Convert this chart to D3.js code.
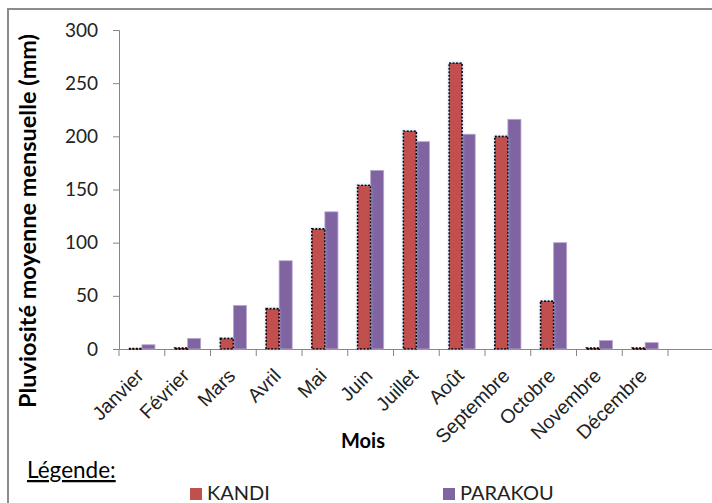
<!DOCTYPE html>
<html><head><meta charset="utf-8">
<script src="https://cdn.jsdelivr.net/npm/d3@7"></script>
<style>
html,body{margin:0;padding:0;background:#fff;}
svg{display:block;font-family:Lato,"Open Sans",sans-serif;}
</style></head>
<body><svg id="c" width="712" height="503"></svg>
<script>
const months = ["Janvier","Février","Mars","Avril","Mai","Juin","Juillet","Août","Septembre","Octobre","Novembre","Décembre",""];
const kandi   = [0.5, 1, 10, 38, 113, 154, 205, 269, 200, 45, 1, 1, null];
const parakou = [4, 10, 41, 83, 129, 168, 195, 202, 216, 100, 8, 6, null];
const yTicks = [0, 50, 100, 150, 200, 250, 300];
const seriesNames = ["KANDI", "PARAKOU"];
const colors = ["#C0504D", "#8064A2"];

(function(){
const svg = d3.select("#c");
const mLeft = 119, mTop = 30, mBottom = 349;
const bandW = 45.75;
const x = d3.scaleBand().domain(months.map((m,i)=>i)).range([mLeft, mLeft + bandW*months.length]).padding(0);
const y = d3.scaleLinear().domain([0, 300]).range([mBottom, mTop]);
const barW = x.bandwidth() / 3.5;
const groupOff = (x.bandwidth() - 2*barW)/2;

// frame
svg.append("path").attr("d", "M8,503 V9 H712").attr("fill","none").attr("stroke","#8c8c8c").attr("stroke-width",2);

// glow filter
const defs = svg.append("defs");
const f = defs.append("filter").attr("id","glow").attr("x","-50%").attr("y","-10%").attr("width","200%").attr("height","120%");
f.append("feGaussianBlur").attr("in","SourceAlpha").attr("stdDeviation",1.6).attr("result","b");
f.append("feFlood").attr("flood-color","#9cc3ee").attr("flood-opacity",0.7);
f.append("feComposite").attr("in2","b").attr("operator","in").attr("result","g");
const fm = f.append("feMerge");
fm.append("feMergeNode").attr("in","g");
fm.append("feMergeNode").attr("in","SourceGraphic");

// y axis
const yAxis = d3.axisLeft(y).tickValues(yTicks).tickSize(6).tickPadding(15);
const gy = svg.append("g").attr("transform", `translate(${mLeft},0)`).call(yAxis);
gy.select(".domain").attr("stroke","#868686");
gy.selectAll(".tick line").attr("stroke","#868686");
gy.selectAll(".tick text").attr("font-size",19).attr("fill","#222").attr("font-family","Lato,sans-serif");

// x axis
const xAxis = d3.axisBottom(x).tickSize(0).tickFormat(i => months[i]);
const gx = svg.append("g").attr("transform", `translate(0,${mBottom})`).call(xAxis);
gx.select(".domain").attr("stroke","#868686");
gx.selectAll(".tick text")
  .attr("font-size",19.5).attr("fill","#222")
  .attr("text-anchor","end")
  .attr("y",0).attr("dy","0")
  .attr("transform","translate(3,28) rotate(-45)");
// category boundary ticks
svg.append("g").selectAll("line").data(months.map((m,i)=>i)).join("line")
  .attr("x1", i => x(i)).attr("x2", i => x(i))
  .attr("y1", mBottom).attr("y2", mBottom+7)
  .attr("stroke","#868686");

// bars
const data = months.map((m,i)=>({i, k: kandi[i], p: parakou[i]})).filter(d => d.k !== null);
svg.append("g").selectAll("rect").data(data).join("rect")
  .attr("x", d => x(d.i) + groupOff + barW)
  .attr("y", d => y(d.p))
  .attr("width", barW)
  .attr("height", d => y(0) - y(d.p))
  .attr("fill", colors[1])
  .attr("stroke", "#b9a8d0").attr("stroke-width", 0.8);

svg.append("g").selectAll("rect").data(data).join("rect")
  .attr("x", d => x(d.i) + groupOff)
  .attr("y", d => y(d.k))
  .attr("width", barW)
  .attr("height", d => y(0) - y(d.k))
  .attr("fill", colors[0])
  .attr("filter", d => d.k > 5 ? "url(#glow)" : null)
  .attr("stroke", "#000").attr("stroke-width", 1.6)
  .attr("stroke-dasharray", "2,1.5");

// axis titles
svg.append("text")
  .attr("transform", `translate(36,221) rotate(-90)`)
  .attr("text-anchor","middle")
  .attr("font-size",23.5).attr("font-weight","bold").attr("fill","#000")
  .text("Pluviosité moyenne mensuelle (mm)");
svg.append("text").attr("x", 363).attr("y", 448).attr("text-anchor","middle")
  .attr("font-size",20).attr("font-weight","bold").attr("fill","#000").text("Mois");

// legend
svg.append("text").attr("x", 27).attr("y", 478).attr("font-size",22.5).attr("fill","#000")
  .attr("text-decoration","underline").text("Légende:");
const legX = [190, 443];
const lg = svg.append("g").selectAll("g").data(seriesNames).join("g")
  .attr("transform", (d,i) => `translate(${legX[i]},488)`);
lg.append("rect").attr("width",12).attr("height",12).attr("fill",(d,i)=>colors[i]);
lg.append("text").attr("x",17).attr("y",12).attr("font-size",20).attr("fill","#222").text(d=>d);
})();
</script></body></html>
